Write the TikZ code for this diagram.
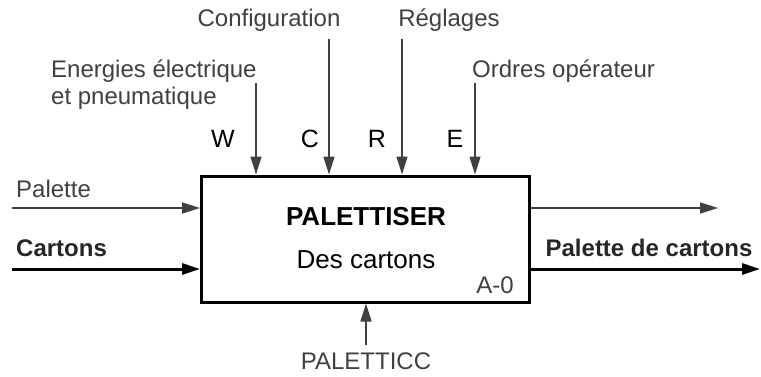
\documentclass[tikz,border=0pt]{standalone}
\usepackage{fontspec}
\setmainfont{Liberation Sans}
\usetikzlibrary{arrows.meta}
\definecolor{labelgray}{gray}{0.25}

\begin{document}
\begin{tikzpicture}[
      x=1pt, y=-1pt,
      >={Triangle[length=18pt, width=11pt]},
      label/.style={inner sep=0pt, text=labelgray, font=\fontsize{24}{27}\selectfont},
      boldlabel/.style={inner sep=0pt, text=black!85, font=\fontsize{24}{27}\selectfont\bfseries},
      letter/.style={inner sep=0pt, text=black, font=\fontsize{25}{28}\selectfont},
      func/.style={rectangle, draw=black, line width=3pt, minimum width=328pt, minimum height=126pt, inner sep=0pt},
      thinflow/.style={->, draw=labelgray, line width=1.5pt},
      thickflow/.style={->, draw=black, line width=3pt}
  ]
      \useasboundingbox (0,0) rectangle (761,376);

      % Function box
      \node[func] (palett) at (365.5,239) {};
      \node[inner sep=0pt, font=\fontsize{26}{30}\selectfont\bfseries, anchor=base] (title) at (366,225) {PALETTISER};
      \node[inner sep=0pt, font=\fontsize{26}{30}\selectfont, anchor=base] (sub) at (366,268) {Des cartons};
      \node[label, anchor=base east] (code) at (514,293) {A-0};

      % Control labels
      \node[label, anchor=base] (config) at (269,26) {Configuration};
      \node[label, anchor=base] (regl) at (449,26) {Réglages};
      \node[label, anchor=base west] (energ) at (51,77) {Energies électrique};
      \node[label, anchor=base west] (pneu) at (51,104) {et pneumatique};
      \node[label, anchor=base west] (ordres) at (472,77) {Ordres opérateur};
      \node[letter, anchor=base] (lw) at (223,147) {W};
      \node[letter, anchor=base] (lc) at (310,147) {C};
      \node[letter, anchor=base] (lr) at (377,147) {R};
      \node[letter, anchor=base] (le) at (455,147) {E};

      % Flow labels
      \node[label, anchor=base west] (palin) at (16,197) {Palette};
      \node[boldlabel, anchor=base west] (cartin) at (16,256) {Cartons};
      \node[boldlabel, anchor=base] (palout) at (649,256) {Palette de cartons};
      \node[label, anchor=base] (meca) at (366,369) {PALETTICC};

      % Free ends
      \coordinate (wtop) at (256,83);
      \coordinate (ctop) at (329,39);
      \coordinate (rtop) at (402,39);
      \coordinate (etop) at (475,83);
      \coordinate (palstart) at (12,208);
      \coordinate (cartstart) at (12,269);
      \coordinate (outend) at (718,208);
      \coordinate (palend) at (760,269);
      \coordinate (mbot) at (366,345);

      % Controls
      \draw[thinflow] (wtop) -- (wtop |- palett.north);
      \draw[thinflow] (ctop) -- (ctop |- palett.north);
      \draw[thinflow] (rtop) -- (rtop |- palett.north);
      \draw[thinflow] (etop) -- (etop |- palett.north);

      % Inputs and outputs
      \draw[thinflow] (palstart) -- (palstart -| palett.west);
      \draw[thickflow] (cartstart) -- (cartstart -| palett.west);
      \draw[thinflow] (outend -| palett.east) -- (outend);
      \draw[thickflow] (palend -| palett.east) -- (palend);

      % Mechanism
      \draw[thinflow] (mbot) -- (mbot |- palett.south);

  \end{tikzpicture}
\end{document}
